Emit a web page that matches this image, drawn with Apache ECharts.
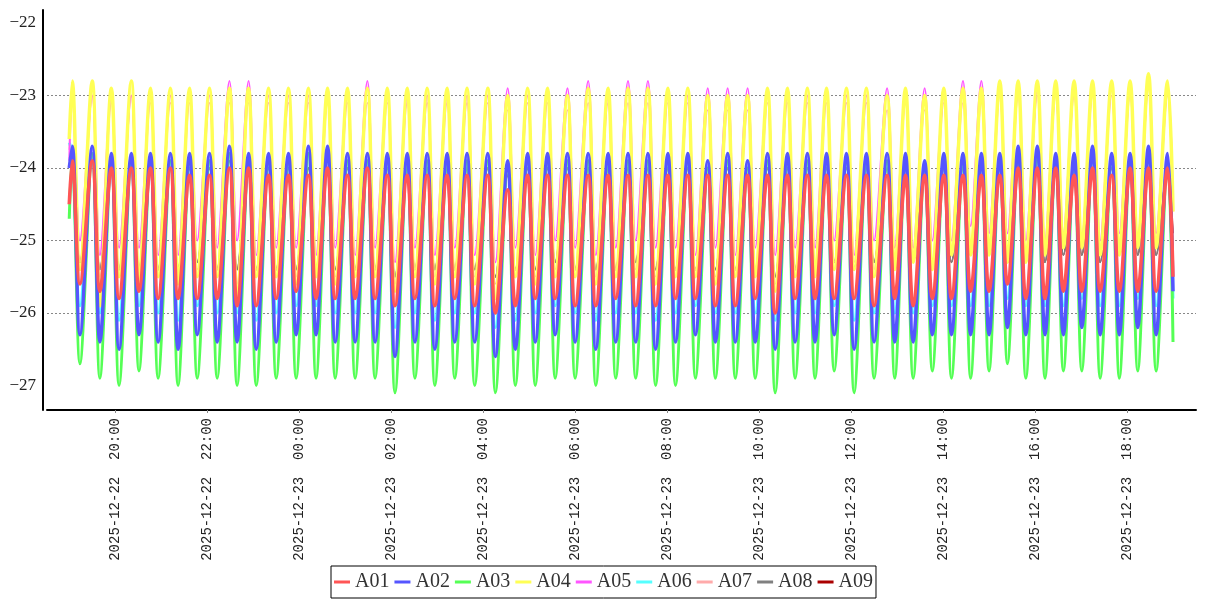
<!DOCTYPE html>
<html>
<head>
<meta charset="utf-8">
<script src="https://cdn.jsdelivr.net/npm/echarts@6/dist/echarts.min.js"></script>
<style>html,body{margin:0;padding:0;background:#fff}#chart{width:1207px;height:600px}</style>
</head>
<body>
<div id="chart"></div>
<script>
// ---------------- data ----------------
const seriesNames = ['A01','A02','A03','A04','A05','A06','A07','A08','A09'];
const seriesColors = ['#ff5555','#5555ff','#55ff55','#ffff55','#ff55ff','#55ffff','#ffaaaa','#808080','#aa0000'];

// time in minutes after 2025-12-22 19:00
const startTime = 0;
const endTime = 1440;
const peakTimes = [4,30,55,81,106,132,157,183,209,234,260,286,312,337,363,389,415,441,467,493,519,546,572,598,624,650,677,703,729,755,781,807,833,859,885,911,937,963,988,1014,1040,1067,1091,1116,1141,1166,1190,1214,1238,1263,1287,1311,1335,1360,1384,1408,1433];
const troughTimes = [14,40,65,91,116,142,167,193,219,244,270,296,322,347,373,399,425,451,477,503,529,556,582,608,634,660,687,713,739,765,791,817,843,869,895,921,947,973,998,1024,1050,1077,1101,1126,1151,1176,1200,1224,1248,1273,1297,1321,1345,1370,1394,1418];

const a01Start = -24.5, a01End = -25.5;
const a01Peaks = [-23.9,-23.9,-24.0,-24.0,-24.0,-24.0,-24.1,-24.1,-24.0,-24.0,-24.1,-24.1,-24.1,-24.0,-24.1,-24.0,-24.1,-24.1,-24.1,-24.1,-24.1,-24.1,-24.3,-24.1,-24.1,-24.1,-24.1,-24.1,-24.1,-24.1,-24.1,-24.1,-24.1,-24.1,-24.1,-24.1,-24.1,-24.1,-24.1,-24.1,-24.1,-24.1,-24.1,-24.1,-24.1,-24.1,-24.1,-24.1,-24.0,-24.0,-24.0,-24.1,-24.0,-24.1,-24.0,-24.0,-24.0];
const a01Troughs = [-25.6,-25.7,-25.8,-25.7,-25.8,-25.8,-25.8,-25.8,-25.9,-25.9,-25.8,-25.7,-25.8,-25.8,-25.8,-25.8,-25.9,-25.8,-25.9,-25.8,-25.9,-26.0,-25.9,-25.8,-25.8,-25.9,-25.9,-25.8,-25.9,-25.9,-25.8,-25.8,-25.9,-25.9,-25.8,-26.0,-25.8,-25.8,-25.8,-25.8,-25.9,-25.8,-25.9,-25.8,-25.8,-25.7,-25.7,-25.6,-25.8,-25.8,-25.7,-25.7,-25.7,-25.7,-25.7,-25.7];

const a02Start = -24.0, a02End = -25.7;
const a02Peaks = [-23.7,-23.7,-23.8,-23.8,-23.8,-23.8,-23.8,-23.8,-23.7,-23.8,-23.8,-23.8,-23.7,-23.7,-23.8,-23.8,-23.8,-23.8,-23.8,-23.8,-23.8,-23.8,-23.9,-23.8,-23.8,-23.8,-23.8,-23.8,-23.8,-23.8,-23.8,-23.8,-23.9,-23.8,-23.9,-23.8,-23.8,-23.8,-23.8,-23.8,-23.8,-23.8,-23.8,-23.9,-23.8,-23.8,-23.8,-23.8,-23.7,-23.7,-23.8,-23.8,-23.7,-23.8,-23.8,-23.7,-23.8];
const a02Troughs = [-26.3,-26.4,-26.5,-26.3,-26.4,-26.5,-26.3,-26.4,-26.4,-26.5,-26.4,-26.3,-26.3,-26.4,-26.4,-26.4,-26.6,-26.4,-26.5,-26.4,-26.4,-26.6,-26.5,-26.4,-26.3,-26.4,-26.5,-26.4,-26.4,-26.5,-26.4,-26.3,-26.4,-26.4,-26.4,-26.5,-26.4,-26.4,-26.3,-26.5,-26.4,-26.4,-26.4,-26.3,-26.3,-26.3,-26.3,-26.2,-26.3,-26.3,-26.3,-26.2,-26.3,-26.3,-26.2,-26.3];

const a03Start = -24.7, a03End = -26.4;
const a03Peaks = [-23.8,-23.8,-23.9,-23.9,-23.9,-23.9,-23.9,-23.9,-23.8,-23.9,-23.9,-23.9,-23.8,-23.8,-23.9,-23.9,-23.9,-23.9,-23.9,-23.9,-23.9,-23.9,-24.0,-23.9,-23.9,-23.9,-23.9,-23.9,-23.9,-23.9,-23.9,-23.9,-24.0,-23.9,-24.0,-23.9,-23.9,-23.9,-23.9,-23.9,-23.9,-23.9,-23.9,-24.0,-23.9,-23.9,-23.9,-23.9,-23.8,-23.8,-23.9,-23.9,-23.8,-23.9,-23.9,-23.8,-23.9];
const a03Troughs = [-26.7,-26.9,-27.0,-26.8,-26.9,-27.0,-26.9,-26.9,-27.0,-27.0,-26.9,-26.9,-26.9,-26.9,-26.9,-26.9,-27.1,-26.9,-27.0,-26.9,-27.0,-27.1,-27.0,-27.0,-26.9,-26.9,-27.0,-26.9,-26.9,-27.0,-27.0,-26.9,-26.9,-26.9,-26.9,-27.1,-26.9,-26.9,-26.8,-27.1,-26.9,-26.9,-26.9,-26.8,-26.9,-26.9,-26.8,-26.7,-26.9,-26.9,-26.8,-26.8,-26.9,-26.9,-26.8,-26.8];

const a04Start = -23.6, a04End = -24.6;
const a04Peaks = [-22.8,-22.8,-22.9,-22.8,-22.9,-22.9,-22.9,-22.9,-22.9,-22.9,-22.9,-22.9,-22.9,-22.9,-22.9,-22.9,-22.9,-22.9,-22.9,-22.9,-22.9,-22.9,-23.0,-22.9,-22.9,-23.0,-22.9,-22.9,-22.9,-22.9,-22.9,-22.9,-23.0,-23.0,-23.0,-22.9,-22.9,-22.9,-22.9,-22.9,-22.9,-23.0,-22.9,-23.0,-22.9,-22.9,-22.9,-22.8,-22.8,-22.8,-22.8,-22.8,-22.8,-22.8,-22.8,-22.7,-22.8];
const a04Troughs = [-25.4,-25.9,-25.5,-25.6,-25.5,-25.6,-25.5,-25.5,-25.9,-25.5,-25.5,-25.6,-25.5,-25.6,-25.5,-25.5,-25.7,-25.5,-25.6,-25.5,-25.6,-25.8,-25.5,-25.6,-25.5,-25.5,-25.6,-25.5,-25.5,-25.6,-25.5,-25.5,-25.6,-25.5,-25.5,-25.7,-25.5,-25.5,-25.4,-25.4,-25.5,-25.4,-25.3,-25.4,-25.2,-25.2,-25.2,-25.3,-25.3,-25.2,-25.1,-25.1,-25.2,-25.2,-25.1,-25.1];

const a05Start = -23.9, a05End = -24.45;
const a05Peaks = [-23.0,-23.0,-23.0,-23.0,-23.0,-23.0,-23.0,-23.0,-22.8,-22.8,-23.0,-23.0,-23.0,-23.0,-23.0,-22.8,-23.0,-23.0,-23.0,-23.0,-23.0,-23.0,-22.9,-23.0,-23.0,-22.9,-22.8,-23.0,-22.8,-22.8,-23.0,-23.0,-22.9,-22.9,-22.9,-23.0,-23.0,-23.0,-23.0,-23.0,-23.0,-22.9,-23.0,-22.9,-23.0,-22.8,-22.8,-22.9,-22.9,-22.9,-22.9,-22.9,-22.9,-22.9,-22.9,-22.8,-22.9];
const a05Troughs = [-25.0,-25.2,-25.1,-25.1,-25.2,-25.2,-25.0,-25.1,-25.0,-25.2,-25.1,-25.1,-25.2,-25.1,-25.2,-25.1,-25.3,-25.1,-25.2,-25.1,-25.2,-25.3,-25.1,-25.2,-25.0,-25.1,-25.2,-25.1,-25.0,-25.1,-25.1,-25.2,-25.1,-25.2,-25.1,-25.2,-25.1,-25.1,-25.0,-25.2,-25.0,-25.1,-25.1,-25.0,-25.0,-24.8,-24.9,-24.9,-25.0,-25.0,-24.9,-25.0,-25.0,-24.9,-25.0,-24.9];

const a06Start = -23.65, a06End = -25.8;
const a06Peaks = [-23.8,-23.8,-23.9,-23.9,-23.9,-23.9,-23.9,-23.9,-23.8,-23.9,-23.9,-23.9,-23.8,-23.8,-23.9,-23.9,-23.9,-23.9,-23.9,-23.9,-23.9,-23.9,-24.0,-23.9,-23.9,-23.9,-23.9,-23.9,-23.9,-23.9,-23.9,-23.9,-24.0,-23.9,-24.0,-23.9,-23.9,-23.9,-23.9,-23.9,-23.9,-23.9,-23.9,-24.0,-23.9,-23.9,-23.9,-23.9,-23.8,-23.8,-23.9,-23.9,-23.8,-23.9,-23.9,-23.8,-23.9];
const a06Troughs = [-25.9,-26.0,-26.1,-25.9,-26.0,-26.1,-25.9,-26.0,-26.0,-26.1,-26.0,-25.9,-25.9,-26.0,-26.0,-26.0,-26.2,-26.0,-26.1,-26.0,-26.0,-26.2,-26.1,-26.0,-25.9,-26.0,-26.1,-26.0,-26.0,-26.1,-26.0,-25.9,-26.0,-26.0,-26.0,-26.1,-26.0,-26.0,-25.9,-26.1,-26.0,-26.0,-26.0,-25.9,-25.9,-25.9,-25.9,-25.8,-25.9,-25.9,-25.9,-25.8,-25.9,-25.9,-25.8,-25.9];

const a07Start = -23.75, a07End = -24.6;
const a07Peaks = [-23.0,-23.0,-23.1,-23.0,-23.1,-23.1,-23.1,-23.1,-23.1,-23.1,-23.1,-23.1,-23.1,-23.1,-23.1,-23.1,-23.1,-23.1,-23.1,-23.1,-23.1,-23.1,-23.2,-23.1,-23.1,-23.2,-23.1,-23.1,-23.1,-23.1,-23.1,-23.1,-23.2,-23.2,-23.2,-23.1,-23.1,-23.1,-23.1,-23.1,-23.1,-23.2,-23.1,-23.2,-23.1,-23.1,-23.1,-23.0,-23.0,-23.0,-23.0,-23.0,-23.0,-23.0,-23.0,-22.9,-23.0];
const a07Troughs = [-25.3,-25.5,-25.4,-25.4,-25.4,-25.5,-25.4,-25.4,-25.6,-25.4,-25.4,-25.5,-25.4,-25.5,-25.4,-25.4,-25.6,-25.4,-25.5,-25.4,-25.5,-25.6,-25.4,-25.5,-25.4,-25.4,-25.5,-25.4,-25.4,-25.5,-25.4,-25.4,-25.5,-25.4,-25.4,-25.6,-25.4,-25.4,-25.3,-25.3,-25.4,-25.3,-25.2,-25.3,-25.2,-25.1,-25.1,-25.2,-25.2,-25.1,-25.0,-25.0,-25.1,-25.1,-25.0,-25.0];

const a08Start = -23.85, a08End = -25.2;
const a08Peaks = [-23.9,-23.9,-24.0,-24.0,-24.0,-24.0,-24.0,-24.0,-23.9,-24.0,-24.0,-24.0,-24.0,-24.0,-24.0,-24.0,-24.0,-24.0,-24.0,-24.0,-24.0,-24.0,-24.1,-24.0,-24.0,-24.0,-24.0,-24.0,-24.0,-24.0,-24.0,-24.0,-24.1,-24.0,-24.1,-24.0,-24.0,-24.0,-24.0,-24.0,-24.0,-24.0,-24.0,-24.1,-24.0,-24.0,-24.0,-24.0,-23.9,-23.9,-24.0,-24.0,-23.9,-24.0,-24.0,-23.9,-24.0];
const a08Troughs = [-25.3,-25.4,-25.4,-25.4,-25.4,-25.4,-25.3,-25.4,-25.4,-25.4,-25.4,-25.4,-25.4,-25.4,-25.4,-25.4,-25.5,-25.4,-25.4,-25.4,-25.4,-25.5,-25.4,-25.4,-25.3,-25.4,-25.4,-25.4,-25.3,-25.4,-25.4,-25.4,-25.4,-25.4,-25.4,-25.5,-25.4,-25.4,-25.3,-25.4,-25.3,-25.4,-25.3,-25.3,-25.3,-25.2,-25.2,-25.3,-25.3,-25.3,-25.2,-25.2,-25.3,-25.2,-25.2,-25.2];

const a09Start = -23.9, a09End = -24.9;
const a09Peaks = [-23.9,-23.9,-24.0,-24.0,-24.0,-24.0,-24.0,-24.0,-23.9,-24.0,-24.0,-24.0,-24.0,-24.0,-24.0,-24.0,-24.0,-24.0,-24.0,-24.0,-24.0,-24.0,-24.1,-24.0,-24.0,-24.0,-24.0,-24.0,-24.0,-24.0,-24.0,-24.0,-24.1,-24.0,-24.1,-24.0,-24.0,-24.0,-24.0,-24.0,-24.0,-24.0,-24.0,-24.1,-24.0,-24.0,-24.0,-24.0,-23.9,-23.9,-24.0,-24.0,-23.9,-24.0,-24.0,-23.9,-24.0];
const a09Troughs = [-25.3,-25.4,-25.4,-25.4,-25.4,-25.4,-25.3,-25.4,-25.4,-25.4,-25.4,-25.4,-25.4,-25.4,-25.4,-25.4,-25.5,-25.4,-25.4,-25.4,-25.4,-25.5,-25.4,-25.4,-25.3,-25.4,-25.4,-25.4,-25.3,-25.4,-25.4,-25.4,-25.4,-25.4,-25.4,-25.5,-25.4,-25.4,-25.3,-25.4,-25.3,-25.4,-25.3,-25.3,-25.3,-25.2,-25.2,-25.3,-25.3,-25.3,-25.2,-25.2,-25.3,-25.2,-25.2,-25.2];

// axis ticks (x in minutes after 2025-12-22 00:00)
const xTickValues = [1200,1320,1440,1560,1680,1800,1920,2040,2160,2280,2400,2520];
const yTickValues = [-27,-26,-25,-24,-23,-22];

// ---------------- chart ----------------
const BASE = 19 * 60; // 2025-12-22 19:00
const seriesData = [
  [a01Start,a01Peaks,a01Troughs,a01End],
  [a02Start,a02Peaks,a02Troughs,a02End],
  [a03Start,a03Peaks,a03Troughs,a03End],
  [a04Start,a04Peaks,a04Troughs,a04End],
  [a05Start,a05Peaks,a05Troughs,a05End],
  [a06Start,a06Peaks,a06Troughs,a06End],
  [a07Start,a07Peaks,a07Troughs,a07End],
  [a08Start,a08Peaks,a08Troughs,a08End],
  [a09Start,a09Peaks,a09Troughs,a09End]
];
function buildPoints(d) {
  const pts = [[BASE + startTime, d[0]]];
  for (let k = 0; k < peakTimes.length; k++) {
    pts.push([BASE + peakTimes[k], d[1][k]]);
    if (k < troughTimes.length) pts.push([BASE + troughTimes[k], d[2][k]]);
  }
  pts.push([BASE + endTime, d[3]]);
  return pts;
}
const widths = [3.5, 3.5, 3, 3.5, 2, 3, 1.5, 2, 1.5];
function pad(n){ return (n < 10 ? '0' : '') + n; }
function fmtX(v) {
  const day = 22 + Math.floor(v / 1440);
  const m = ((v % 1440) + 1440) % 1440;
  return '2025-12-' + pad(day) + '  ' + pad(Math.floor(m / 60)) + ':' + pad(m % 60);
}

const chart = echarts.init(document.getElementById('chart'), null, {renderer: 'canvas'});
chart.setOption({
  animation: false,
  backgroundColor: '#fff',
  grid: {left: 47, right: 11, top: 10, bottom: 190, containLabel: false},
  legend: {
    data: seriesNames,
    bottom: 2,
    left: 'center',
    icon: 'rect',
    itemWidth: 16,
    itemHeight: 3,
    itemGap: 5,
    borderColor: '#000',
    borderWidth: 1,
    borderRadius: 0,
    padding: [6, 3, 6, 3],
    textStyle: {fontFamily: 'Liberation Serif', fontSize: 20, color: '#333'}
  },
  xAxis: {
    type: 'value',
    min: 1111,
    max: 2610,
    axisLine: {show: true, lineStyle: {color: '#000', width: 2}},
    axisTick: {show: true, length: 3, lineStyle: {color: '#888'}, customValues: xTickValues},
    axisLabel: {
      customValues: xTickValues,
      rotate: 90,
      margin: 8,
      formatter: fmtX,
      fontFamily: 'Liberation Mono',
      fontSize: 14,
      color: '#222'
    },
    splitLine: {show: false}
  },
  yAxis: {
    type: 'value',
    min: -27.338,
    max: -21.821,
    offset: 4,
    axisLine: {show: true, lineStyle: {color: '#000', width: 2}},
    axisTick: {show: false, customValues: yTickValues},
    axisLabel: {
      customValues: yTickValues,
      margin: 7,
      formatter: function (v) { return (v < 0 ? '\u2212' : '') + Math.abs(v); },
      fontFamily: 'Liberation Serif',
      fontSize: 17,
      color: '#222'
    },
    splitLine: {show: true, showMinLine: false, showMaxLine: false, lineStyle: {color: '#888', type: [2, 2], width: 1}}
  },
  series: seriesNames.map(function (name, i) {
    return {
      name: name,
      type: 'line',
      data: buildPoints(seriesData[i]),
      showSymbol: false,
      symbol: 'none',
      smooth: 0.35,
      z: 20 - i,
      color: seriesColors[i],
      lineStyle: {color: seriesColors[i], width: widths[i]},
      emphasis: {disabled: true}
    };
  })
});
</script>
</body>
</html>
